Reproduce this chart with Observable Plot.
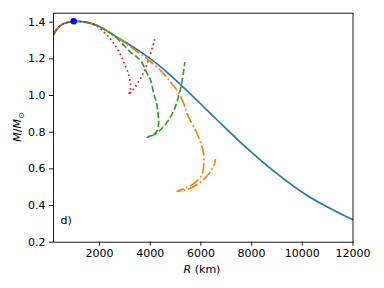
<!DOCTYPE html>
<html><head><meta charset="utf-8">
<script src="https://cdn.jsdelivr.net/npm/d3@7"></script>
<script src="https://cdn.jsdelivr.net/npm/@observablehq/plot@0.6"></script>
<style>body{margin:0;background:#fff}svg{display:block}</style>
</head><body><div id="chart"></div>
<script>
const xTicks = [2000, 4000, 6000, 8000, 10000, 12000];
const yTicks = [0.2, 0.4, 0.6, 0.8, 1.0, 1.2, 1.4];
const xLabel = "R";
const xUnit = " (km)";
const panelLabel = ["d)"];

const blueR = [185, 331, 528, 725, 1000, 1300, 1700, 2040, 2698, 3353, 3617, 4012, 4406, 5196, 5985, 6600, 7562, 8876, 10192, 11510, 12000];
const blueM = [1.333, 1.364, 1.388, 1.398, 1.405, 1.403, 1.392, 1.373, 1.318, 1.262, 1.238, 1.200, 1.158, 1.060, 0.955, 0.872, 0.745, 0.588, 0.455, 0.355, 0.322];

const orangeR = [185, 331, 528, 725, 1000, 1300, 1700, 2040, 2698, 3225, 3877, 4406, 4800, 5065, 5327, 5460, 5854, 6000, 6085, 6117, 6051, 5722, 5394, 5065, 5526, 5985, 6314, 6511, 6577];
const orangeM = [1.333, 1.364, 1.388, 1.398, 1.405, 1.403, 1.392, 1.373, 1.316, 1.265, 1.2, 1.137, 1.073, 1.028, 0.955, 0.9, 0.791, 0.74, 0.7, 0.646, 0.573, 0.519, 0.495, 0.478, 0.491, 0.527, 0.573, 0.618, 0.655];

const greenR = [185, 331, 528, 725, 1000, 1300, 1700, 2040, 2564, 3225, 3617, 3880, 4012, 4142, 4250, 4310, 4335, 4276, 4142, 3880, 4012, 4210, 4406, 4670, 4931, 5128, 5262, 5365];
const greenM = [1.333, 1.364, 1.388, 1.398, 1.405, 1.403, 1.391, 1.372, 1.328, 1.237, 1.191, 1.119, 1.085, 1.01, 0.96, 0.9, 0.855, 0.809, 0.788, 0.773, 0.777, 0.791, 0.813, 0.855, 0.918, 1.0, 1.082, 1.182];

const redR = [185, 331, 528, 725, 1000, 1300, 1775, 2304, 2698, 2959, 3157, 3225, 3205, 3157, 3250, 3353, 3680, 3943, 4206];
const redM = [1.333, 1.364, 1.388, 1.398, 1.405, 1.402, 1.388, 1.328, 1.255, 1.182, 1.109, 1.055, 1.025, 1.004, 1.02, 1.037, 1.109, 1.2, 1.318];

const peakR = [985];
const peakM = [1.405];

const series = [
  {R: blueR, M: blueM, color: "#1f77b4", dash: null},
  {R: orangeR, M: orangeM, color: "#ff7f0e", dash: "10.7,2.7,1.7,2.7"},
  {R: greenR, M: greenM, color: "#2ca02c", dash: "6.2,2.7"},
  {R: redR, M: redM, color: "#d62728", dash: "1.7,2.8"}
];
const toRows = (R, M) => R.map((r, i) => ({R: r, M: M[i]}));

const lineMarks = series.map(s => Plot.line(toRows(s.R, s.M), {
  x: "R", y: "M", stroke: s.color, strokeWidth: 1.67,
  strokeDasharray: s.dash, strokeLinecap: "butt", curve: "catmull-rom"
}));

const fmt = d3.format(".1f");
const chart = Plot.plot({
  width: 384, height: 288,
  marginLeft: 53, marginRight: 31.5, marginTop: 12.7, marginBottom: 46.3,
  style: {fontFamily: "DejaVu Sans", fontSize: "11px", background: "white", color: "black"},
  x: {domain: [185, 12000], label: null},
  y: {domain: [0.2, 1.449], label: null},
  marks: [
    Plot.axisX({ticks: xTicks, tickSize: 4, tickPadding: 3, tickFormat: d => String(d), label: null, strokeWidth: 0.9}),
    Plot.axisY({ticks: yTicks, tickSize: 4, tickPadding: 4, tickFormat: fmt, label: null, strokeWidth: 0.9}),
    ...lineMarks,
    Plot.dot(toRows(peakR, peakM), {x: "R", y: "M", r: 3.3, fill: "#0000ff", stroke: "none"}),
    Plot.text(panelLabel, {text: d => d, frameAnchor: "bottom-left", textAnchor: "start", lineAnchor: "middle", dx: 7, dy: -22, fontSize: 11}),
    Plot.frame({stroke: "black", strokeWidth: 0.9})
  ]
});
document.getElementById("chart").appendChild(chart);

const svg = d3.select(chart);
const xl = svg.append("text")
  .attr("x", 202).attr("y", 273)
  .attr("text-anchor", "middle")
  .attr("font-family", "DejaVu Sans").attr("font-size", 11).attr("fill", "black");
xl.append("tspan").attr("font-style", "italic").text(xLabel);
xl.append("tspan").text(xUnit);

const yl = svg.append("text")
  .attr("transform", "translate(21,127) rotate(-90)")
  .attr("text-anchor", "middle")
  .attr("font-family", "DejaVu Sans").attr("font-size", 11).attr("fill", "black");
yl.append("tspan").attr("font-style", "italic").text("M");
yl.append("tspan").text("/");
yl.append("tspan").attr("font-style", "italic").text("M");
yl.append("tspan").attr("font-size", 8).attr("dy", 3).text("⊙");
</script>
</body></html>
